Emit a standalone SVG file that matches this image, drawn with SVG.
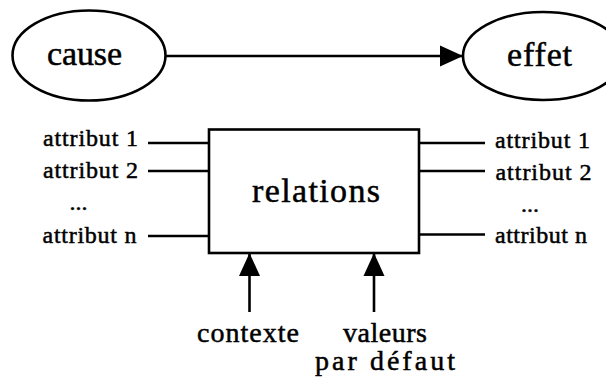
<svg xmlns="http://www.w3.org/2000/svg" width="606" height="377" viewBox="0 0 606 377">
<style>
text{font-family:"Liberation Serif","Times New Roman",serif;fill:#000;stroke:#000;stroke-width:0.5}
.a{font-size:24px}
.b{font-size:34px}
.c{font-size:28px}
.s{fill:none;stroke:#000;stroke-width:2.6}
.l{stroke:#000;stroke-width:2.6;fill:none}
</style>
<defs>
<marker id="ah" markerUnits="userSpaceOnUse" markerWidth="24" markerHeight="22" refX="23" refY="11" orient="auto">
<path d="M0,0.5 L23,11 L0,21.5 Z" fill="#000"/>
</marker>
</defs>
<rect width="606" height="377" fill="#fff"/>
<g id="cause">
<ellipse class="s" cx="89" cy="55.5" rx="76.5" ry="45"/>
<text class="b" x="47" y="65" textLength="75" lengthAdjust="spacing">cause</text>
</g>
<g id="effet">
<ellipse class="s" cx="543" cy="56" rx="80" ry="44"/>
<text class="b" x="507" y="66" textLength="65" lengthAdjust="spacing">effet</text>
</g>
<g id="relations">
<rect class="s" x="209" y="129.5" width="210" height="123.5"/>
<text class="b" x="252" y="202" textLength="128" lengthAdjust="spacing">relations</text>
</g>
<g id="inputs">
<text class="a" x="43" y="146" textLength="95" lengthAdjust="spacing">attribut 1</text>
<text class="a" x="43" y="178" textLength="95" lengthAdjust="spacing">attribut 2</text>
<text class="a" x="78.5" y="210" text-anchor="middle">...</text>
<text class="a" x="42.5" y="243" textLength="94" lengthAdjust="spacing">attribut n</text>
</g>
<g id="outputs">
<text class="a" x="495" y="148" textLength="95" lengthAdjust="spacing">attribut 1</text>
<text class="a" x="495.5" y="180" textLength="96" lengthAdjust="spacing">attribut 2</text>
<text class="a" x="530" y="212" text-anchor="middle">...</text>
<text class="a" x="495" y="243" textLength="92" lengthAdjust="spacing">attribut n</text>
</g>
<g id="contexte">
<text class="c" x="197" y="342" textLength="102" lengthAdjust="spacing">contexte</text>
</g>
<g id="valeurs">
<text class="c" x="343" y="342" textLength="84" lengthAdjust="spacing">valeurs</text>
<text class="c" x="315" y="370" textLength="140" lengthAdjust="spacing">par défaut</text>
</g>
<g id="connectors">
<line class="l" x1="166" y1="56" x2="463" y2="56" marker-end="url(#ah)"/>
<line class="l" x1="148" y1="143" x2="209" y2="143"/>
<line class="l" x1="148" y1="171" x2="209" y2="171"/>
<line class="l" x1="148" y1="236" x2="209" y2="236"/>
<line class="l" x1="419" y1="143" x2="485" y2="143"/>
<line class="l" x1="419" y1="171" x2="485" y2="171"/>
<line class="l" x1="419" y1="234.5" x2="485" y2="234.5"/>
<line class="l" x1="249.5" y1="312" x2="249.5" y2="253" marker-end="url(#ah)"/>
<line class="l" x1="374" y1="312" x2="374" y2="253" marker-end="url(#ah)"/>
</g>
</svg>
